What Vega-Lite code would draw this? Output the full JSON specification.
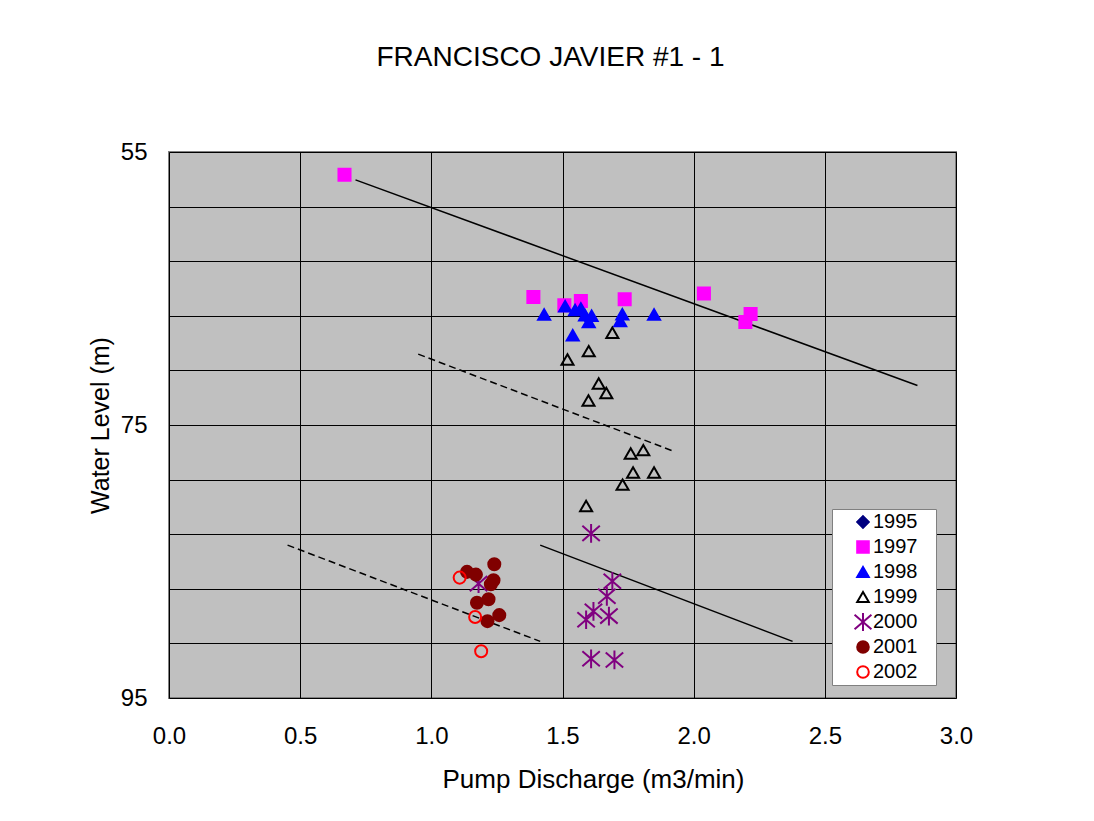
{
  "$schema": "https://vega.github.io/schema/vega-lite/v6.json",
  "width": 787,
  "height": 546,
  "autosize": {"type": "none"},
  "padding": {"left": 169, "top": 152, "right": 138, "bottom": 123},
  "background": "white",
  "title": {"text": "FRANCISCO JAVIER #1 - 1", "fontSize": 28, "fontWeight": "normal", "color": "black", "anchor": "middle", "dx": -12, "offset": 46, "baseline": "alphabetic"},
  "datasets": {
    "points": [
      {"q": 0.669, "wl": 56.67, "year": "1997"},
      {"q": 1.389, "wl": 65.62, "year": "1997"},
      {"q": 1.507, "wl": 66.23, "year": "1997"},
      {"q": 1.570, "wl": 65.91, "year": "1997"},
      {"q": 1.737, "wl": 65.79, "year": "1997"},
      {"q": 2.039, "wl": 65.37, "year": "1997"},
      {"q": 2.217, "wl": 66.87, "year": "1997"},
      {"q": 2.197, "wl": 67.45, "year": "1997"},
      {"q": 1.430, "wl": 66.90, "year": "1998"},
      {"q": 1.510, "wl": 66.30, "year": "1998"},
      {"q": 1.548, "wl": 66.57, "year": "1998"},
      {"q": 1.570, "wl": 66.47, "year": "1998"},
      {"q": 1.586, "wl": 66.96, "year": "1998"},
      {"q": 1.611, "wl": 67.00, "year": "1998"},
      {"q": 1.600, "wl": 67.45, "year": "1998"},
      {"q": 1.539, "wl": 68.43, "year": "1998"},
      {"q": 1.728, "wl": 66.89, "year": "1998"},
      {"q": 1.720, "wl": 67.38, "year": "1998"},
      {"q": 1.849, "wl": 66.91, "year": "1998"},
      {"q": 1.690, "wl": 68.24, "year": "1999"},
      {"q": 1.600, "wl": 69.59, "year": "1999"},
      {"q": 1.519, "wl": 70.20, "year": "1999"},
      {"q": 1.638, "wl": 71.96, "year": "1999"},
      {"q": 1.667, "wl": 72.65, "year": "1999"},
      {"q": 1.599, "wl": 73.21, "year": "1999"},
      {"q": 1.808, "wl": 76.84, "year": "1999"},
      {"q": 1.760, "wl": 77.09, "year": "1999"},
      {"q": 1.769, "wl": 78.48, "year": "1999"},
      {"q": 1.849, "wl": 78.48, "year": "1999"},
      {"q": 1.729, "wl": 79.37, "year": "1999"},
      {"q": 1.590, "wl": 80.93, "year": "1999"},
      {"q": 1.609, "wl": 82.94, "year": "2000"},
      {"q": 1.690, "wl": 86.45, "year": "2000"},
      {"q": 1.669, "wl": 87.55, "year": "2000"},
      {"q": 1.618, "wl": 88.65, "year": "2000"},
      {"q": 1.590, "wl": 89.27, "year": "2000"},
      {"q": 1.677, "wl": 89.00, "year": "2000"},
      {"q": 1.609, "wl": 92.13, "year": "2000"},
      {"q": 1.698, "wl": 92.21, "year": "2000"},
      {"q": 1.180, "wl": 86.62, "year": "2000"},
      {"q": 1.136, "wl": 85.76, "year": "2001"},
      {"q": 1.170, "wl": 85.96, "year": "2001"},
      {"q": 1.240, "wl": 85.20, "year": "2001"},
      {"q": 1.237, "wl": 86.38, "year": "2001"},
      {"q": 1.227, "wl": 86.67, "year": "2001"},
      {"q": 1.174, "wl": 88.02, "year": "2001"},
      {"q": 1.218, "wl": 87.77, "year": "2001"},
      {"q": 1.259, "wl": 88.93, "year": "2001"},
      {"q": 1.214, "wl": 89.37, "year": "2001"},
      {"q": 1.108, "wl": 86.18, "year": "2002"},
      {"q": 1.167, "wl": 89.07, "year": "2002"},
      {"q": 1.190, "wl": 91.57, "year": "2002"}
    ],
    "solidLines": [
      {"q1": 0.711, "wl1": 57.04, "q2": 2.853, "wl2": 72.11},
      {"q1": 1.415, "wl1": 83.80, "q2": 2.377, "wl2": 90.85}
    ],
    "dashedLines": [
      {"q1": 0.950, "wl1": 69.81, "q2": 1.918, "wl2": 76.88},
      {"q1": 0.452, "wl1": 83.80, "q2": 1.415, "wl2": 90.85}
    ]
  },
  "layer": [
    {
      "data": {"name": "solidLines"},
      "mark": {"type": "rule", "color": "black", "strokeWidth": 1.5},
      "encoding": {
        "x": {"field": "q1", "type": "quantitative", "title": "Pump Discharge (m3/min)"},
        "y": {"field": "wl1", "type": "quantitative", "title": "Water Level (m)"},
        "x2": {"field": "q2"},
        "y2": {"field": "wl2"}
      }
    },
    {
      "data": {"name": "dashedLines"},
      "mark": {"type": "rule", "color": "black", "strokeWidth": 1.5, "strokeDash": [7, 4]},
      "encoding": {
        "x": {"field": "q1", "type": "quantitative", "title": "Pump Discharge (m3/min)"},
        "y": {"field": "wl1", "type": "quantitative", "title": "Water Level (m)"},
        "x2": {"field": "q2"},
        "y2": {"field": "wl2"}
      }
    },
    {
      "data": {"name": "points"},
      "mark": {"type": "point", "opacity": 1, "fillOpacity": 1, "strokeOpacity": 1, "strokeWidth": 2, "size": 145},
      "encoding": {
        "x": {
          "field": "q", "type": "quantitative", "title": "Pump Discharge (m3/min)",
          "scale": {"domain": [0, 3], "nice": false, "zero": false},
          "axis": {"values": [0, 0.5, 1, 1.5, 2, 2.5, 3], "format": ".1f", "grid": true, "ticks": false, "domain": false, "labelFlush": false,
                   "labelPadding": 26, "labelFontSize": 24, "labelColor": "black",
                   "titleFontSize": 26, "titleFontWeight": "normal", "titleColor": "black", "titleX": 424, "titleAlign": "center", "titleY": 89, "titleBaseline": "alphabetic"}
        },
        "y": {
          "field": "wl", "type": "quantitative", "title": "Water Level (m)",
          "scale": {"domain": [55, 95], "reverse": true, "nice": false, "zero": false},
          "axis": {"values": [55, 57, 59, 61, 63, 65, 67, 69, 71, 73, 75, 77, 79, 81, 83, 85, 87, 89, 91, 93, 95],
                   "labelExpr": "datum.value % 10 == 5 ? datum.label : ''",
                   "grid": true, "ticks": false, "domain": false, "labelPadding": 22, "labelFontSize": 24, "labelColor": "black",
                   "titleFontSize": 25, "titleFontWeight": "normal", "titleColor": "black", "titleX": -61, "titleY": 273, "titleBaseline": "alphabetic", "titleAngle": 270}
        },
        "shape": {
          "field": "year", "type": "nominal",
          "scale": {"domain": ["1995", "1997", "1998", "1999", "2000", "2001", "2002"],
                    "range": ["diamond", "square", "triangle-up", "triangle-up", "M0,-1.55L0,1.55M-1.45,-1.25L1.45,1.25M-1.45,1.25L1.45,-1.25", "circle", "circle"]},
          "legend": {"orient": "none", "legendX": 663, "legendY": 357, "title": null, "fillColor": "white", "strokeColor": "#808080",
                     "padding": 3, "symbolOffset": 18, "labelOffset": 0, "rowPadding": 5, "clipHeight": 20, "labelFontSize": 20, "labelColor": "black",
                     "symbolSize": 135, "symbolStrokeWidth": 2, "labelExpr": "datum.label + '\u00a0\u00a0\u2009\u200b'"}
        },
        "fill": {
          "field": "year", "type": "nominal",
          "scale": {"domain": ["1995", "1997", "1998", "1999", "2000", "2001", "2002"],
                    "range": ["#000080", "#FF00FF", "#0000FF", "transparent", "transparent", "#800000", "transparent"]}
        },
        "stroke": {
          "field": "year", "type": "nominal",
          "scale": {"domain": ["1995", "1997", "1998", "1999", "2000", "2001", "2002"],
                    "range": ["#000080", "#FF00FF", "#0000FF", "#000000", "#800080", "#800000", "#FF0000"]}
        }
      }
    }
  ],
  "config": {
    "font": "Liberation Sans",
    "view": {"fill": "#C0C0C0", "stroke": "#808080", "strokeWidth": 2},
    "axis": {"gridColor": "black", "gridOpacity": 1, "gridWidth": 1}
  }
}
